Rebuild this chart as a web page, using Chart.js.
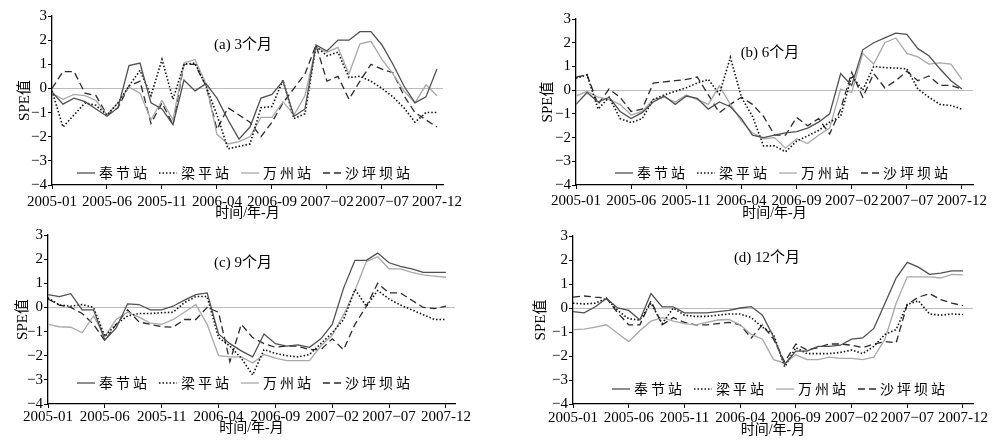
<!DOCTYPE html>
<html>
<head>
<meta charset="utf-8">
<script src="https://cdn.jsdelivr.net/npm/chart.js@4.4.0/dist/chart.umd.min.js"></script>
<style>
  html, body { margin: 0; padding: 0; background: #fff; }
  #wrap { position: relative; width: 992px; height: 440px; overflow: hidden; }
  .panel { position: absolute; width: 496px; height: 220px; }
</style>
</head>
<body>
<div id="wrap">
  <div class="panel" style="left:0;top:0"><canvas id="pa" width="496" height="220"></canvas></div>
  <div class="panel" style="left:496px;top:0"><canvas id="pb" width="496" height="220"></canvas></div>
  <div class="panel" style="left:0;top:220px"><canvas id="pc" width="496" height="220"></canvas></div>
  <div class="panel" style="left:496px;top:220px"><canvas id="pd" width="496" height="220"></canvas></div>
</div>
<script>
const months = ['2005-01','2005-02','2005-03','2005-04','2005-05','2005-06','2005-07','2005-08','2005-09','2005-10','2005-11','2005-12',
  '2006-01','2006-02','2006-03','2006-04','2006-05','2006-06','2006-07','2006-08','2006-09','2006-10','2006-11','2006-12',
  '2007-01','2007−02','2007-03','2007-04','2007-05','2007-06','2007−07','2007-08','2007-09','2007-10','2007-11','2007-12'];
const tickEvery = 5;
const yTicks = [3, 2, 1, 0, -1, -2, -3, -4];
const stations = ['奉节站', '梁平站', '万州站', '沙坪坝站'];

// (a) 3个月
const fengjie3 = [-0.15, -0.65, -0.4, -0.55, -0.85, -1.15, -0.8, 0.95, 1.05, -0.6, -0.85, -1.5, 0.35, -0.1, 0.2, -0.4, -1.3, -2.1, -1.6, -0.4, -0.25, 0.3, -1.15, -0.85, 1.8, 1.55, 2.0, 2.0, 2.35, 2.35, 1.8, 1.0, 0.1, -0.6, -0.35, 0.8];
const liangping3 = [-0.1, -1.6, -1.1, -0.6, -0.7, -1.1, -0.6, 0.1, 0.75, -0.3, 1.2, -0.45, 1.0, 1.05, 0.1, -1.1, -2.5, -2.4, -2.3, -0.8, -0.75, 0.35, -1.25, -1.05, 1.75, 1.35, 1.5, 0.45, 0.5, 0.3, 0.0, -0.35, -0.8, -1.4, -1.0, -1.0];
const wanzhou3 = [-0.2, -0.45, -0.25, -0.3, -0.5, -1.1, -0.6, 0.05, -0.2, -1.3, -0.5, -1.3, 1.05, 1.2, 0.2, -1.9, -2.3, -2.2, -2.0, -1.2, -1.2, -0.55, -1.1, -0.3, 1.7, 1.5, 1.7, 0.6, 1.85, 1.95, 1.2, 0.6, -0.1, -0.6, 0.15, -0.3];
const shapingba3 = [0.0, 0.7, 0.7, -0.2, -0.3, -1.1, -0.8, 0.1, 0.3, -1.45, -0.6, -1.5, 1.0, 1.0, 0.1, -1.7, -0.8, -1.1, -1.4, -2.0, -1.4, -0.6, 0.0, 0.6, 1.8, 0.3, 0.5, -0.45, 0.3, 1.0, 0.8, 0.65, -0.3, -1.0, -1.3, -1.6];

// (b) 6个月
const fengjie6 = [-0.6, -0.1, -0.5, -0.3, -0.9, -1.2, -0.95, -0.5, -0.25, -0.6, -0.25, -0.35, -0.8, -0.5, -0.7, -1.2, -1.9, -2.0, -1.9, -1.8, -1.75, -1.6, -1.35, -1.0, 0.7, 0.2, 1.7, 2.0, 2.2, 2.4, 2.35, 1.75, 1.45, 0.9, 0.4, 0.05];
const liangping6 = [0.5, 0.65, -0.8, -0.3, -1.2, -1.37, -1.2, -0.4, -0.2, -0.05, 0.1, 0.3, 0.45, -0.17, 1.38, -0.3, -1.1, -2.35, -2.35, -2.6, -2.15, -1.93, -1.7, -1.35, -1.1, 0.6, 0.0, 1.0, 0.95, 0.93, 0.9, 0.05, -0.3, -0.6, -0.65, -0.8];
const wanzhou6 = [-0.25, -0.05, -0.3, -0.4, -0.6, -1.05, -0.9, -0.4, -0.3, -0.5, -0.2, -0.4, -0.6, 0.18, -0.6, -1.3, -1.8, -2.05, -2.0, -2.45, -2.05, -2.25, -1.9, -1.6, 0.05, -0.1, 1.55, 1.1, 2.0, 2.2, 1.55, 1.4, 1.1, 1.15, 1.1, 0.45];
const shapingba6 = [0.55, 0.65, -0.6, 0.05, -0.3, -0.9, -0.8, 0.3, 0.35, 0.4, 0.45, 0.55, -0.2, -0.95, -0.6, -0.3, -0.6, -1.1, -1.9, -1.9, -1.15, -1.5, -1.2, -1.85, -0.8, 0.75, -0.3, 0.7, 0.1, 0.4, 0.8, 0.4, 0.6, 0.2, 0.2, 0.05];

// (c) 9个月
const fengjie9 = [0.53, 0.45, 0.57, -0.1, -0.1, -1.35, -0.85, 0.15, 0.12, -0.1, -0.1, 0.05, 0.3, 0.53, 0.6, -1.1, -1.5, -1.8, -2.05, -1.1, -1.5, -1.6, -1.55, -1.65, -1.3, -0.7, 0.8, 1.95, 1.95, 2.25, 1.85, 1.7, 1.6, 1.45, 1.45, 1.45];
const liangping9 = [0.4, 0.1, 0.05, 0.12, 0.0, -1.2, -0.7, -0.35, -0.25, -0.25, -0.22, -0.2, 0.2, 0.45, 0.45, -1.25, -1.6, -2.1, -2.8, -1.75, -1.9, -2.0, -2.05, -1.95, -1.5, -1.05, -0.5, 0.75, 0.05, 0.7, 0.35, 0.1, -0.1, -0.3, -0.5, -0.5];
const wanzhou9 = [-0.7, -0.8, -0.82, -1.05, -0.35, -1.2, -0.5, -0.2, -0.4, -0.65, -0.7, -0.5, -0.2, 0.12, -0.7, -2.0, -2.05, -2.05, -2.3, -1.95, -2.1, -2.2, -2.2, -2.2, -1.6, -1.15, -0.3, 0.7, 1.9, 2.1, 1.6, 1.6, 1.45, 1.35, 1.3, 1.25];
const shapingba9 = [0.35, 0.1, 0.0, -0.25, -0.7, -1.38, -0.7, -0.1, -0.6, -0.7, -0.8, -0.82, -0.5, -0.5, 0.0, -0.2, -2.25, -0.7, -1.25, -1.5, -1.65, -1.6, -1.6, -1.75, -1.75, -1.3, -1.75, -0.7, 0.05, 1.0, 0.6, 0.6, 0.3, 0.0, -0.05, 0.05];

// (d) 12个月
const fengjie12 = [-0.15, -0.2, 0.05, 0.4, 0.0, -0.1, -0.5, 0.6, 0.05, 0.05, -0.2, -0.2, -0.2, -0.15, -0.1, 0.0, 0.06, -0.3, -1.2, -2.35, -1.8, -1.8, -1.6, -1.6, -1.55, -1.3, -1.25, -0.85, 0.2, 1.25, 1.9, 1.7, 1.4, 1.45, 1.55, 1.55];
const liangping12 = [0.2, 0.17, 0.2, 0.4, -0.1, -0.45, -0.5, 0.2, -0.65, 0.0, -0.3, -0.35, -0.35, -0.3, -0.25, -0.25, -0.4, -0.8, -1.1, -2.45, -1.65, -1.9, -1.9, -1.9, -1.85, -1.75, -1.9, -1.6, -1.1, -0.9, 0.15, 0.3, -0.25, -0.3, -0.25, -0.27];
const wanzhou12 = [-0.9, -0.88, -0.8, -0.7, -1.05, -1.4, -0.95, -0.55, -0.4, -0.55, -0.65, -0.7, -0.6, -0.5, -0.48, -0.7, -1.1, -1.3, -2.15, -2.3, -1.95, -2.15, -2.15, -2.05, -2.1, -2.1, -2.15, -2.05, -1.3, 0.2, 1.3, 1.3, 1.3, 1.25, 1.4, 1.38];
const shapingba12 = [0.45, 0.5, 0.45, 0.42, -0.2, -0.7, -0.7, 0.3, -0.7, -0.4, -0.6, -0.7, -0.7, -0.65, -0.6, -0.7, -1.25, -0.7, -1.3, -2.25, -1.5, -1.75, -1.65, -1.5, -1.5, -1.55, -1.65, -1.5, -1.4, -1.45, 0.15, 0.45, 0.6, 0.35, 0.2, 0.1];

const lineStyles = [
  { borderColor: '#505050', borderWidth: 1.3, borderDash: [] },
  { borderColor: '#111111', borderWidth: 1.6, borderDash: [1.5, 2] },
  { borderColor: '#a9a9a9', borderWidth: 1.3, borderDash: [] },
  { borderColor: '#2b2b2b', borderWidth: 1.3, borderDash: [7, 4] }
];

const serif = '"Liberation Serif", "Times New Roman", serif';
const cjk = '"Liberation Serif", "Noto Sans CJK SC", serif';

// panel title and in-plot legend
const panelDeco = {
  id: 'panelDeco',
  afterDatasetsDraw(chart, args, opts) {
    const ctx = chart.ctx;
    ctx.save();
    ctx.fillStyle = '#000';
    ctx.textBaseline = 'middle';
    ctx.textAlign = 'center';
    ctx.font = '15px ' + cjk;
    ctx.fillText(opts.title, opts.titleX, opts.titleY);

    ctx.font = '14px "Noto Sans CJK SC", sans-serif';
    ctx.letterSpacing = '3px';
    const sample = 18, gap = 4, space = 9;
    const items = chart.data.datasets.map(ds => ({ ds, w: ctx.measureText(ds.label).width }));
    const total = items.reduce((s, it) => s + sample + gap + it.w, 0) + space * (items.length - 1);
    let x = opts.legendX - total / 2;
    ctx.textAlign = 'left';
    items.forEach(it => {
      ctx.strokeStyle = it.ds.borderColor;
      ctx.lineWidth = it.ds.borderWidth;
      ctx.setLineDash(it.ds.borderDash);
      ctx.beginPath();
      ctx.moveTo(x, opts.legendY);
      ctx.lineTo(x + sample, opts.legendY);
      ctx.stroke();
      x += sample + gap;
      ctx.fillText(it.ds.label, x, opts.legendY);
      x += it.w + space;
    });
    ctx.restore();
  }
};

function makePanel(id, title, series, g) {
  const tickIdx = months.map((m, i) => i).filter(i => i % tickEvery === 0);
  new Chart(document.getElementById(id), {
    type: 'line',
    data: {
      datasets: series.map((vals, k) => Object.assign({
        label: stations[k],
        data: vals.map((v, i) => ({ x: i, y: v })),
        pointRadius: 0,
        tension: 0,
        fill: false
      }, lineStyles[k]))
    },
    options: {
      responsive: false,
      animation: false,
      events: [],
      layout: { padding: { left: g.pl, top: g.top, right: g.right, bottom: 0 } },
      plugins: {
        legend: { display: false },
        tooltip: { enabled: false },
        panelDeco: { title: title, titleX: g.tx, titleY: g.ty, legendX: g.lx, legendY: g.ly }
      },
      scales: {
        x: {
          type: 'linear',
          min: 0,
          max: g.xmax,
          afterBuildTicks: s => { s.ticks = tickIdx.map(v => ({ value: v })); },
          afterFit: s => { s.height = g.xh; },
          grid: { drawOnChartArea: false, drawTicks: true, tickLength: 4, tickColor: '#000' },
          border: { color: '#000', width: 1.3 },
          ticks: {
            callback: v => months[v] || '',
            color: '#000',
            font: { family: serif, size: 15 },
            padding: g.xpad,
            maxRotation: 0,
            autoSkip: false
          },
          title: {
            display: true,
            text: '时间/年-月',
            color: '#000',
            font: { family: cjk, size: 14, lineHeight: 1 },
            padding: { top: 0, bottom: g.tpad }
          }
        },
        y: {
          min: -4,
          max: 3,
          afterBuildTicks: s => { s.ticks = yTicks.map(v => ({ value: v })); },
          afterFit: s => { s.width = g.yw; },
          grid: {
            color: c => (c.tick && c.tick.value === 0) ? '#bdbdbd' : 'rgba(0,0,0,0)',
            lineWidth: 1,
            drawTicks: true,
            tickLength: 4,
            tickColor: '#000'
          },
          border: { color: '#000', width: 1.3 },
          ticks: {
            callback: v => v < 0 ? '−' + Math.abs(v) : String(v),
            color: '#000',
            font: { family: serif, size: 15 },
            padding: 1
          },
          title: {
            display: true,
            text: 'SPE值',
            color: '#000',
            font: { family: cjk, size: 15, lineHeight: 1 },
            padding: { top: 4, bottom: 0 }
          }
        }
      }
    },
    plugins: [panelDeco]
  });
}

makePanel('pa', '(a) 3个月', [fengjie3, liangping3, wanzhou3, shapingba3],
  { pl: 14, yw: 38, top: 16, right: 53, xh: 35, xmax: 35.55, xpad: 4, tpad: 0, tx: 243, ty: 45, lx: 245, ly: 173 });
makePanel('pb', '(b) 6个月', [fengjie6, liangping6, wanzhou6, shapingba6],
  { pl: 41, yw: 39, top: 19, right: 19, xh: 35, xmax: 36, xpad: 3, tpad: 0, tx: 274, ty: 53, lx: 287, ly: 173 });
makePanel('pc', '(c) 9个月', [fengjie9, liangping9, wanzhou9, shapingba9],
  { pl: 12, yw: 36, top: 15, right: 41, xh: 36, xmax: 35.8, xpad: 0, tpad: 5, tx: 243, ty: 43, lx: 245, ly: 163 });
makePanel('pd', '(d) 12个月', [fengjie12, liangping12, wanzhou12, shapingba12],
  { pl: 34, yw: 43, top: 16, right: 19, xh: 36, xmax: 35.9, xpad: 1, tpad: 3, tx: 271, ty: 38, lx: 284, ly: 169 });
</script>
</body>
</html>
